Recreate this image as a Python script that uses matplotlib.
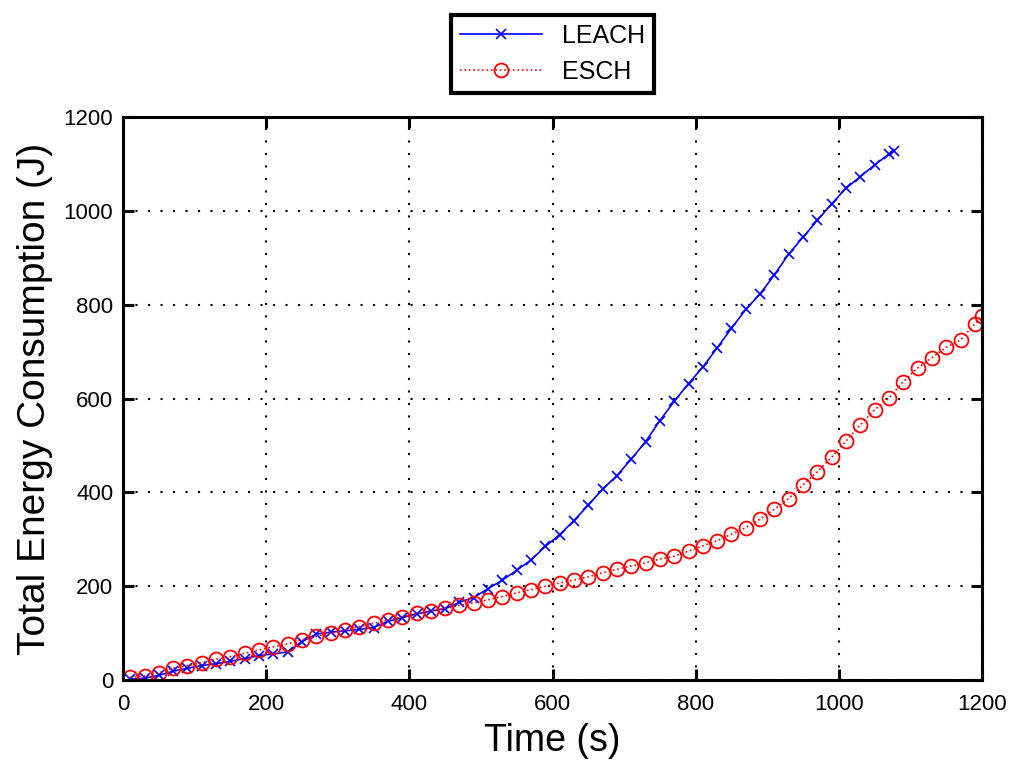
import numpy as np
import matplotlib
matplotlib.use("Agg")
import matplotlib.pyplot as plt

plt.rcParams['font.family'] = ['Liberation Sans', 'DejaVu Sans']

# LEACH: time (s) and total energy (J)
leach_t = [10, 30, 50, 70, 90, 110, 130, 150, 170, 190, 210, 230, 250, 270, 290,
           310, 330, 350, 370, 390, 410, 430, 450, 470, 490, 510, 530, 550, 570,
           590, 610, 630, 650, 670, 690, 710, 730, 750, 770, 790, 810, 830, 850,
           870, 890, 910, 930, 950, 970, 990, 1010, 1030, 1050, 1070, 1077]
leach_e = [2, 4, 10, 19, 25, 31, 35, 40, 46, 52, 56, 60, 82, 98, 102,
           105, 108, 112, 125, 133, 141, 147, 152, 166, 176, 195, 213, 234, 256,
           285, 310, 340, 373, 407, 436, 471, 508, 553, 594, 632, 667, 708, 750,
           790, 823, 864, 908, 944, 980, 1015, 1048, 1073, 1098, 1121, 1128]

# ESCH
esch_t = [10, 30, 50, 70, 90, 110, 130, 150, 170, 190, 210, 230, 250, 270, 290,
          310, 330, 350, 370, 390, 410, 430, 450, 470, 490, 510, 530, 550, 570,
          590, 610, 630, 650, 670, 690, 710, 730, 750, 770, 790, 810, 830, 850,
          870, 890, 910, 930, 950, 970, 990, 1010, 1030, 1050, 1070, 1090, 1110,
          1130, 1150, 1170, 1190, 1200]
esch_e = [6, 9, 16, 25, 31, 37, 44, 50, 57, 64, 71, 77, 86, 93, 100,
          107, 114, 121, 128, 135, 142, 147, 153, 159, 165, 171, 178, 186, 193,
          200, 207, 213, 220, 229, 236, 243, 250, 258, 264, 275, 286, 297, 311,
          325, 343, 364, 387, 416, 444, 475, 509, 544, 576, 601, 636, 665,
          687, 709, 725, 759, 777]

fig = plt.figure(figsize=(10.11, 7.65), dpi=100)
ax = fig.add_axes([0.1217, 0.111, 0.8496, 0.736])

ax.plot(leach_t, leach_e, '-x', color='blue', linewidth=1.2, markersize=7,
        markeredgewidth=1.2, label='LEACH')
ax.plot(esch_t, esch_e, ':o', color='red', linewidth=1.2, markersize=10,
        markerfacecolor='none', markeredgewidth=1.3, label='ESCH')

ax.set_xlim(0, 1200)
ax.set_ylim(0, 1200)
ax.set_xticks(np.arange(0, 1201, 200))
ax.set_yticks(np.arange(0, 1201, 200))
ax.grid(True, color='black', linestyle=(0, (1, 5)), linewidth=1.5)

for s in ax.spines.values():
    s.set_linewidth(2.2)
ax.tick_params(direction='in', length=8, width=2.2, top=True, right=True,
               labelsize=16)
ax.tick_params(axis='x', pad=10)
ax.tick_params(axis='y', pad=7)

ax.set_xlabel('Time (s)', fontsize=27, labelpad=6)
ax.set_ylabel('Total Energy Consumption (J)', fontsize=28, labelpad=8)

leg = ax.legend(loc='lower center', bbox_to_anchor=(0.5, 1.043), fontsize=18,
                fancybox=False, framealpha=1, edgecolor='black',
                handlelength=3.3, borderpad=0.35, labelspacing=0.5,
                borderaxespad=0)
leg.get_frame().set_linewidth(3)

fig.savefig('out.png', dpi=100)
